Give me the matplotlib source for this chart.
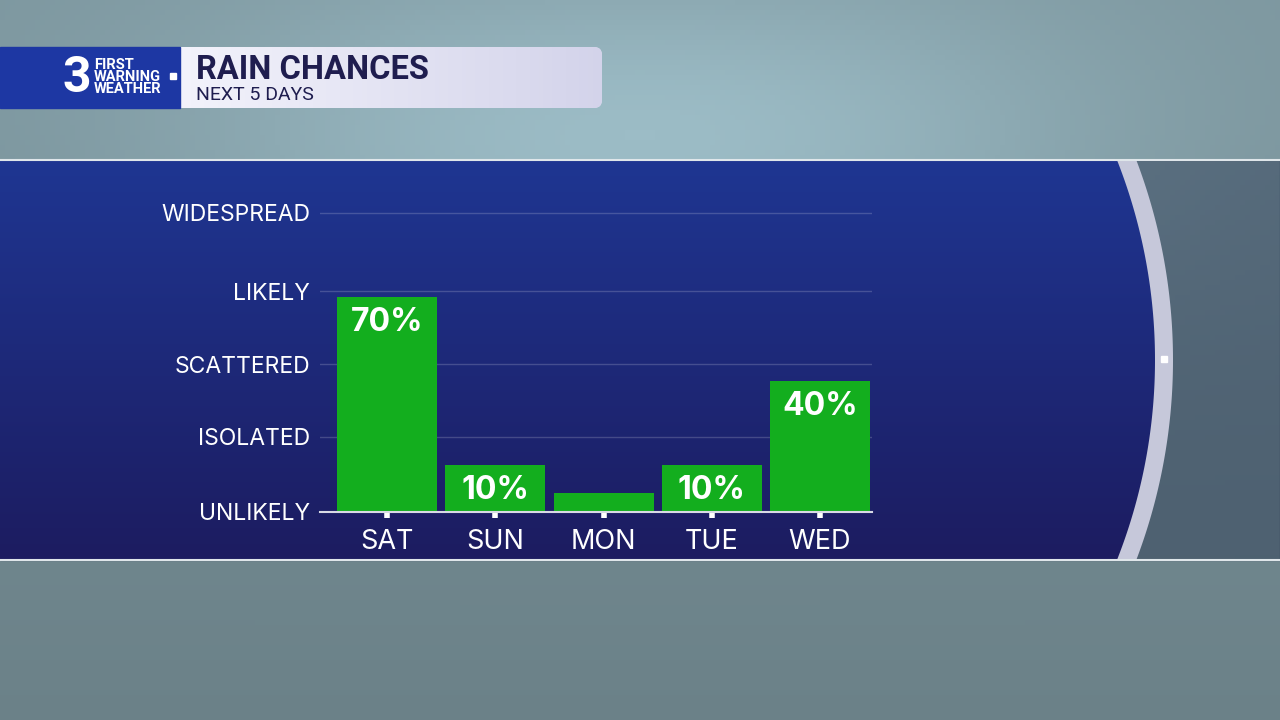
"""
Rain chances, next 5 days -- TV weather graphic recreated with matplotlib.
"""
import numpy as np
import matplotlib
matplotlib.use('Agg')
import matplotlib.pyplot as plt
from matplotlib.patches import Rectangle, FancyBboxPatch, Polygon

# ── Data ─────────────────────────────────────────────────────────────────────
days = ["SAT", "SUN", "MON", "TUE", "WED"]
rain_pct = [70, 10, 0, 10, 40]
pct_labels = ["70%", "10%", "", "10%", "40%"]
levels = ["UNLIKELY", "ISOLATED", "SCATTERED", "LIKELY", "WIDESPREAD"]
level_pos = [-6.8, 20, 46, 72, 100]

title = "RAIN CHANCES"
subtitle = "NEXT 5 DAYS"

plt.rcParams['font.family'] = ['Inter', 'DejaVu Sans']

W, H = 1280, 720
fig = plt.figure(figsize=(12.8, 7.2), dpi=100)

# ── Background (pixel coordinates) ───────────────────────────────────────────
bg = fig.add_axes([0, 0, 1, 1])
bg.set_xlim(0, W)
bg.set_ylim(H, 0)
bg.axis('off')

xx, yy = np.meshgrid(np.linspace(0, 1, 256), np.linspace(0, 1, 144))
glow = np.exp(-((xx - 0.5) ** 2) / 0.15 - ((yy - 0.2) ** 2) / 0.06)
shade = 0.62 + 0.18 * glow - 0.08 * yy
rgb = np.dstack([shade * 0.78, shade * 0.94, shade * 0.99]).clip(0, 1)
bg.imshow(rgb, extent=[0, W, H, 0], aspect='auto', zorder=0)


def band_shape(radius, cx=610, cy=360, top=160, bot=560):
    ys = np.linspace(top, bot, 120)
    xs = cx + np.sqrt(radius ** 2 - (ys - cy) ** 2)
    pts = [(0, top)] + list(zip(xs, ys)) + [(0, bot)]
    return Polygon(pts, closed=True, transform=bg.transData)


band_top, band_bot = 160, 560
bg.add_patch(Rectangle((0, band_top), W, band_bot - band_top,
                       color='#26344f', alpha=0.45, zorder=1))
ring = band_shape(563)
ring.set_facecolor('#c6c8da')
ring.set_edgecolor('none')
ring.set_zorder(2)
bg.add_patch(ring)

grad = np.linspace(0, 1, 200)[:, None]
top_c = np.array([31, 54, 146]) / 255
bot_c = np.array([28, 28, 96]) / 255
band_img = (top_c * (1 - grad[..., None]) + bot_c * grad[..., None])
band_img = np.repeat(band_img, 2, axis=1)
im = bg.imshow(band_img, extent=[0, W, band_bot, band_top], aspect='auto', zorder=3)
im.set_clip_path(band_shape(545))
bg.plot([0, W], [band_top, band_top], color='#dfe6ea', lw=1.5, zorder=4)
bg.plot([0, W], [band_bot, band_bot], color='#dfe6ea', lw=1.5, zorder=4)
bg.add_patch(Rectangle((1161, 356), 6, 6, color='white', zorder=5))

# ── Header ───────────────────────────────────────────────────────────────────
pill = FancyBboxPatch((150, 47), 452, 61, boxstyle="round,pad=0,rounding_size=8",
                      facecolor='#dcdcee', edgecolor='none', zorder=6)
bg.add_patch(pill)
pg = np.linspace(0, 1, 100)[None, :]
pill_img = np.dstack([0.96 - 0.13 * pg, 0.96 - 0.13 * pg, 0.99 - 0.07 * pg])
pim = bg.imshow(pill_img, extent=[150, 602, 108, 47], aspect='auto', zorder=7)
pim.set_clip_path(pill)
bg.add_patch(Rectangle((0, 47), 180, 61, color='#1d37a3', zorder=8))

bg.text(91, 78, "3", color='white', fontsize=36, fontweight='bold',
        family='Roboto', ha='right', va='center', zorder=9)
bg.text(94, 77, "FIRST\nWARNING\nWEATHER", color='white', fontsize=10.5,
        fontweight='bold', family='Roboto', linespacing=0.82,
        ha='left', va='center', zorder=9)
bg.add_patch(Rectangle((170, 73), 6, 6, color='white', zorder=9))

bg.text(196, 70, title, color='#1f1d4f', fontsize=23.5, fontweight='bold',
        family='Roboto', ha='left', va='center', zorder=9)
bg.text(196, 95, subtitle, color='#1f1d4f', fontsize=14,
        family='Roboto', ha='left', va='center', zorder=9)

# ── Chart ────────────────────────────────────────────────────────────────────
ax = fig.add_axes([320 / W, (H - 512) / H, 552 / W, 313.04 / H])
ax.patch.set_alpha(0)
ymin = level_pos[0]
x = np.arange(len(days))
heights = [v - ymin for v in rain_pct]
ax.bar(x, heights, bottom=ymin, width=0.925, color='#13ae1e', zorder=3)

for lvl in level_pos[1:]:
    ax.axhline(lvl, color='white', alpha=0.18, lw=1, zorder=1)

for xi, v, lab in zip(x, rain_pct, pct_labels):
    if lab:
        ax.annotate(lab, (xi, v), xytext=(0, -18.5), textcoords='offset points',
                    ha='center', va='center', color='white', fontsize=23,
                    fontweight='bold', zorder=4)

ax.set_xlim(-0.62, 4.48)
ax.set_ylim(ymin, 105)
for s in ['top', 'right', 'left']:
    ax.spines[s].set_visible(False)
ax.spines['bottom'].set_color('#d8dae6')
ax.spines['bottom'].set_linewidth(1.5)
ax.spines['bottom'].set_zorder(5)

ax.set_xticks(x, days)
ax.tick_params(axis='x', length=4, width=4, color='white', pad=8,
               labelcolor='white', labelsize=19.5)
ax.set_yticks(level_pos, levels)
ax.tick_params(axis='y', length=0, pad=7, labelcolor='white', labelsize=16.5)

fig.savefig("out.png", dpi=100)
